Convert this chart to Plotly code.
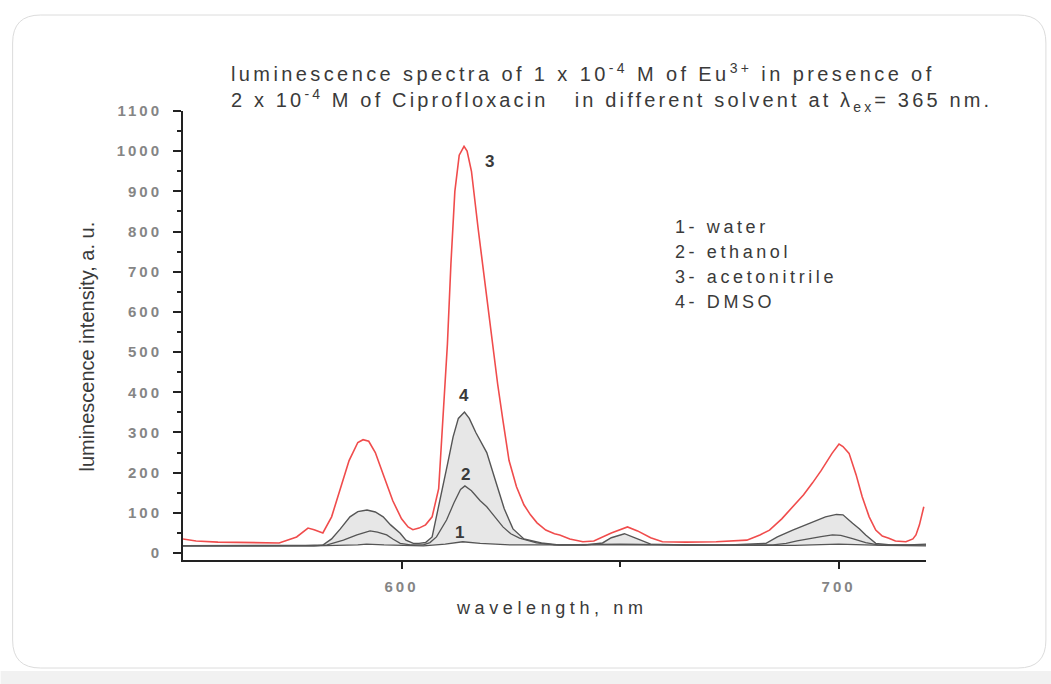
import plotly.graph_objects as go

# ---------------- data ----------------
wl_water = [550, 580, 590, 592, 596, 605, 610, 614, 618, 625, 650, 690, 700, 710, 720]
int_water = [18, 18, 20, 22, 20, 18, 22, 28, 24, 20, 20, 19, 22, 19, 18]

wl_ethanol = [550, 580, 583, 586.7, 589.8, 592.8, 594.5, 596.6, 598, 599.7, 602, 605, 606.5, 608,
              610.3, 612, 613.5, 614.5, 616, 618, 619.5, 621.5, 623.2, 625, 627, 630.9, 635, 650,
              665, 685, 688, 690.5, 693.3, 696, 698.6, 700.5, 703.2, 706.2, 709, 720]
int_ethanol = [18, 18, 20, 32, 45, 55, 52, 45, 35, 24, 20, 20, 26, 40,
               82, 125, 158, 167, 155, 130, 115, 88, 65, 48, 37, 25, 20, 22,
               20, 20, 24, 30, 36, 41, 45, 44, 36, 26, 20, 20]

wl_acetonitrile = [550, 553, 558, 565, 572, 576, 578.6, 580, 582, 584, 586, 588, 590, 591.2, 592.5,
                   594, 596, 598, 600, 601.5, 602.6, 604, 605.5, 607, 608.5, 609.5, 610.5, 611.3,
                   612.2, 613.2, 614.3, 615, 616, 617.5, 619, 620.6, 622, 623.2, 624.6, 626.3, 628,
                   629.5, 631, 633, 635, 636.2, 638.5, 641.5, 644, 648, 651.7, 654, 657, 659.7, 665,
                   672, 679, 682, 684.2, 687, 689.4, 692, 694, 696, 698.5, 700.1, 701, 702.4, 704,
                   705.4, 707, 708.5, 710, 711.5, 713, 715.4, 717, 717.7, 718.5, 719.5]
int_acetonitrile = [35, 30, 27, 26, 25, 40, 62, 58, 50, 90, 160, 230, 275, 282, 278,
                    250, 190, 130, 85, 65, 58, 62, 70, 90, 160, 330, 520, 720,
                    900, 990, 1012, 1000, 950, 810, 680, 540, 420, 330, 230, 165, 120,
                    95, 75, 57, 48, 45, 35, 28, 30, 50, 65, 55, 38, 28, 27,
                    28, 32, 45, 57, 85, 115, 145, 174, 205, 248, 271, 265, 248, 195,
                    140, 90, 57, 42, 37, 30, 28, 35, 45, 70, 115]

wl_dmso = [550, 560, 570, 578, 582, 584, 586, 588.2, 590, 592.1, 594, 595.8, 597.5, 599.7, 601,
           602.7, 604, 605.5, 607, 608, 609.5, 610.5, 611.8, 613, 614.4, 615.5, 617, 619.5,
           621.5, 623.5, 625.5, 628, 632, 636, 642, 646, 648, 651, 654, 657, 665, 675, 683.4,
           686, 689.5, 692, 694, 697, 699.5, 701, 703.2, 704.8, 706.2, 708.5, 712, 716, 720]
int_dmso = [18, 18, 18, 19, 20, 35, 60, 90, 103, 107, 102, 90, 70, 49, 32,
            24, 24, 26, 40, 90, 165, 220, 289, 335, 351, 335, 300, 250,
            180, 110, 60, 35, 25, 20, 20, 25, 38, 48, 35, 22, 20, 20, 24,
            40, 57, 68, 78, 90, 96, 95, 74, 60, 45, 24, 20, 20, 22]

curve_labels = ["3", "4", "2", "1"]
curve_label_x = [620.1, 614.2, 614.7, 613.2]
curve_label_y = [975, 393, 196, 50]

legend_lines = ["1- water", "2- ethanol", "3- acetonitrile", "4- DMSO"]
legend_y = [811, 749, 687, 625]

x_ticks = [600, 700]
y_ticks = list(range(0, 1101, 100))

# ---------------- geometry helpers (pixel -> paper) ----------------
L, R, T, B = 182.5, 926.0, 111.0, 560.0
W, H = R - L, B - T


def px(x):
    return (x - L) / W


def py(y):
    return (B - y) / H


def spaced(text, ls):
    return f'<span style="letter-spacing:{ls}px">{text}</span>'


TXT = "#3a3a3a"
fig = go.Figure()

fig.add_trace(go.Scatter(x=wl_water, y=int_water, mode="lines",
                         line=dict(color="#555555", width=1.3), showlegend=False))
fig.add_trace(go.Scatter(x=wl_dmso, y=int_dmso, mode="lines", fill="tonexty",
                         fillcolor="rgba(215,215,215,0.6)",
                         line=dict(color="#555555", width=1.4), showlegend=False))
fig.add_trace(go.Scatter(x=wl_ethanol, y=int_ethanol, mode="lines",
                         line=dict(color="#555555", width=1.3), showlegend=False))
fig.add_trace(go.Scatter(x=wl_acetonitrile, y=int_acetonitrile, mode="lines",
                         line=dict(color="#f04c4c", width=1.6), showlegend=False))

# curve labels
for t, x, y in zip(curve_labels, curve_label_x, curve_label_y):
    fig.add_annotation(x=x, y=y, text=t, showarrow=False, xanchor="center", yanchor="middle",
                       font=dict(family="Liberation Sans", size=17, color=TXT, weight="bold"))

# legend-like text block
for t, y in zip(legend_lines, legend_y):
    fig.add_annotation(x=662.0, y=y, text=spaced(t, 3.6), showarrow=False,
                       xanchor="left", yanchor="middle",
                       font=dict(family="Liberation Sans", size=18, color=TXT))

# title (two lines, left aligned)
fig.add_annotation(xref="paper", yref="paper", x=px(229), y=py(73), xanchor="left", yanchor="middle",
                   text=spaced("luminescence spectra of 1 x 10<sup>-4</sup> M of Eu<sup>3+</sup> in presence of", 3.4),
                   showarrow=False, font=dict(family="Liberation Sans", size=20, color=TXT))
fig.add_annotation(xref="paper", yref="paper", x=px(229), y=py(101), xanchor="left", yanchor="middle",
                   text=spaced("2 x 10<sup>-4</sup> M of Ciprofloxacin   in different solvent at \u03bb<sub>ex</sub>= 365 nm.", 3.15),
                   showarrow=False, font=dict(family="Liberation Sans", size=20, color=TXT))

# axis titles
fig.add_annotation(xref="paper", yref="paper", x=px(86), y=py(347), xanchor="center", yanchor="middle",
                   textangle=-90, text="luminescence intensity, a. u.", showarrow=False,
                   font=dict(family="Liberation Sans", size=20, color=TXT))
fig.add_annotation(xref="paper", yref="paper", x=px(551), y=py(608), xanchor="center", yanchor="middle",
                   text=spaced("wavelength, nm", 4.6), showarrow=False,
                   font=dict(family="Liberation Sans", size=18, color=TXT))

# card background with rounded corners
x0, x1, y0, y1, r = 12, 1046, 15, 668, 28
path = (f"M {px(x0 + r)},{py(y0)} L {px(x1 - r)},{py(y0)} Q {px(x1)},{py(y0)} {px(x1)},{py(y0 + r)} "
        f"L {px(x1)},{py(y1 - r)} Q {px(x1)},{py(y1)} {px(x1 - r)},{py(y1)} "
        f"L {px(x0 + r)},{py(y1)} Q {px(x0)},{py(y1)} {px(x0)},{py(y1 - r)} "
        f"L {px(x0)},{py(y0 + r)} Q {px(x0)},{py(y0)} {px(x0 + r)},{py(y0)} Z")
fig.add_shape(type="rect", xref="paper", yref="paper", x0=px(0), x1=px(1051), y0=py(684), y1=py(671),
              fillcolor="#f1f1f1", line=dict(width=0), layer="below")
fig.add_shape(type="path", xref="paper", yref="paper", path=path,
              fillcolor="white", line=dict(color="#dcdcdc", width=1), layer="below")

fig.update_layout(
    width=1051, height=684,
    margin=dict(l=L, r=1051 - R, t=T, b=684 - B, autoexpand=False),
    paper_bgcolor="white", plot_bgcolor="rgba(0,0,0,0)",
    showlegend=False,
)
fig.update_xaxes(range=[550, 720], tickvals=x_ticks, ticktext=[spaced(str(v), 3) for v in x_ticks],
                 showgrid=False, zeroline=False, showline=True, linecolor="#222222", linewidth=2,
                 ticks="outside", ticklen=7, tickwidth=2, tickcolor="#222222",
                 minor=dict(tickvals=[650], ticks="outside", ticklen=5, tickwidth=2, tickcolor="#222222"),
                 tickfont=dict(family="Liberation Sans", size=15, color="#858585", weight="bold"),
                 ticklabelstandoff=5)
fig.update_yaxes(range=[-17.4, 1100], tickvals=y_ticks, ticktext=[spaced(str(v), 3) for v in y_ticks],
                 showgrid=False, zeroline=False, showline=True, linecolor="#222222", linewidth=2,
                 ticks="outside", ticklen=8, tickwidth=2, tickcolor="#222222",
                 minor=dict(dtick=50, ticks="outside", ticklen=4, tickwidth=1.5, tickcolor="#222222"),
                 tickfont=dict(family="Liberation Sans", size=15, color="#858585", weight="bold"),
                 ticklabelstandoff=8)

fig.write_html("out.html", config={"displayModeBar": False},
               post_script="document.body.style.margin='0px';")
